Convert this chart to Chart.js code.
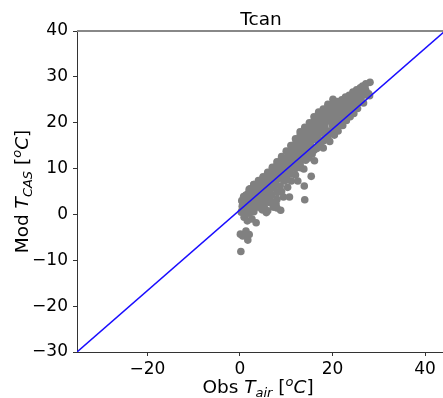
<!DOCTYPE html>
<html lang="en">
<head>
    <meta charset="UTF-8">
    <title>Tcan</title>
    <script src="https://cdn.jsdelivr.net/npm/chart.js"></script>
    <style>
        body { margin: 0; background: #fff; overflow: hidden; }
        canvas { display: block; }
    </style>
</head>
<body>
    <!-- figure is cropped on the right, like the original -->
    <canvas id="tcanChart" width="449" height="398"></canvas>

    <script>
        const obsTair = [
            0.2, 0.1, 0.6, 1.7, 2.0, 1.3, 1.6, 0.9, 3.5, 2.6,
            0.3, 0.5, 0.4, 0.8, 1.0, 1.2, 1.5, 1.8, 1.9, 2.3, 2.4, 2.1, 2.8, 2.9, 3.2, 3.3, 3.6, 3.8, 3.9, 4.2,
            4.4, 4.5, 4.7, 5.0, 5.2, 5.3, 5.6, 5.8, 6.0, 6.2, 6.3, 6.6, 6.9, 7.0, 7.2, 7.4, 7.6, 7.8, 7.9, 8.1,
            8.3, 8.5, 8.8, 8.7, 9.0, 9.2, 9.4, 9.5, 9.7, 9.9, 10.1, 10.3, 10.4, 10.6, 10.8, 11.0, 11.1, 11.3, 11.5, 11.7,
            11.9, 12.0, 12.2, 12.4, 12.5, 12.6, 12.8, 13.0, 13.1, 13.3, 13.5, 13.7, 13.8, 14.0, 14.0, 14.2, 14.3, 14.5, 14.7, 14.9,
            15.0, 15.2, 15.4, 15.5, 15.6, 15.8, 16.0, 16.1, 16.3, 16.5, 16.6, 16.8, 17.0, 17.1, 17.3, 17.5, 17.6, 17.8, 18.0, 18.1,
            18.3, 18.5, 18.7, 18.9, 19.0, 19.2, 19.4, 19.6, 19.8, 19.9, 20.1, 20.2, 20.4, 20.6, 20.8, 21.0, 21.2, 21.4, 21.6, 21.8,
            22.0, 22.2, 22.4, 22.6, 22.8, 23.0, 23.2, 23.4, 23.6, 23.8, 24.0, 24.2, 24.4, 24.6, 24.8, 25.0, 25.2, 25.4, 25.6, 25.8,
            26.0, 26.2, 26.5, 26.7, 26.9, 27.2, 27.5, 27.8, 28.1, 28.0,
            10.0, 10.5, 11.0, 11.5, 12.0, 12.5, 13.0, 13.5, 14.0, 14.5, 15.0, 15.5, 16.0, 16.5, 17.0, 17.5, 18.0, 18.5, 19.0, 19.5,
            20.0, 20.5, 21.0, 21.5, 22.0, 22.5, 23.0, 23.5, 24.0, 24.5, 25.0, 25.5, 26.0, 26.5, 27.0,
            5.0, 5.5, 6.0, 6.5, 7.0, 7.5, 8.0, 8.5, 9.0, 9.5, 3.0, 3.5, 4.0, 4.5, 1.2, 2.0, 0.5, 1.0,
            12.3, 13.6, 14.8, 16.2, 17.2, 18.2, 19.3, 20.3, 21.2, 15.7, 14.1, 11.8, 10.7,
            8.0, 5.7, 10.7, 13.9,
            10.0, 11.0, 12.0, 13.0, 14.0, 15.0, 16.0, 17.0, 18.0, 19.0, 20.0, 21.0, 22.0, 23.0, 24.0, 25.0, 26.0,
            2.0, 3.0, 4.0, 5.0, 6.0, 7.0, 8.0, 9.0, 10.0, 11.0, 12.0, 13.0, 14.0, 15.0, 16.0, 17.0, 18.0, 19.0,
            10.2, 11.2, 12.2, 13.2, 14.2, 15.2, 16.2, 17.2, 18.2, 19.2, 20.2, 21.2, 22.2, 23.2, 24.2, 25.2, 26.2, 27.2,
            1.5, 2.5, 3.0, 4.0, 4.8, 5.5, 6.5, 7.0, 8.0, 9.0, 6.0,
            0.6, 1.3, 2.2, 3.0, 4.0, 5.0, 6.0, 7.0, 8.0, 9.0
        ];
        const modTcas = [
            -8.1, -4.3, -4.7, -5.6, -4.4, -3.6, -1.4, -0.6, -1.8, -1.0,
            0.5, 1.8, 3.0, 3.9, 2.2, 0.8, 3.3, 4.6, 1.6, 2.7, 5.0, 0.3, 3.8, 1.2, 5.6, 2.4, 4.4, 6.1, 1.6, 3.3,
            5.4, 7.0, 2.2, 4.3, 6.3, 1.4, 7.3, 3.5, 5.6, 8.0, 2.6, 6.8, 4.3, 8.7, 1.6, 5.9, 9.4, 2.3, 7.5, 4.8,
            10.1, 8.6, 0.9, 6.2, 11.0, 9.1, 3.8, 7.3, 12.0, 10.0, 8.3, 5.9, 12.8, 11.2, 9.2, 14.0, 7.3, 12.4, 10.4, 15.2,
            13.3, 8.6, 11.5, 16.3, 7.3, 14.2, 12.2, 17.2, 10.2, 15.2, 13.0, 17.6, 9.9, 16.0, 3.2, 11.8, 18.4, 14.2, 17.0, 12.3,
            19.2, 15.3, 8.3, 17.6, 13.2, 20.1, 16.3, 11.7, 18.6, 21.0, 14.4, 17.3, 21.8, 19.6, 15.2, 22.2, 17.9, 20.7, 14.5, 22.5,
            19.0, 16.8, 21.7, 23.2, 18.2, 20.4, 15.9, 22.7, 24.0, 19.5, 25.1, 21.4, 17.3, 23.4, 20.0, 24.6, 18.2, 22.2, 24.3, 20.6,
            25.0, 19.4, 23.2, 21.5, 25.6, 20.5, 24.1, 22.4, 26.0, 21.3, 25.0, 23.2, 26.7, 22.0, 25.6, 24.0, 27.2, 23.1, 26.2, 24.8,
            27.6, 25.5, 28.0, 24.3, 27.1, 28.5, 26.0, 26.3, 28.8, 25.9,
            11.5, 13.5, 11.8, 13.9, 15.0, 12.8, 14.1, 16.4, 13.5, 16.0, 14.3, 18.8, 17.7, 19.5, 16.5, 20.3, 18.4, 21.0, 21.2, 18.0,
            22.6, 20.8, 21.5, 23.5, 22.6, 24.3, 23.2, 25.0, 24.0, 25.2, 25.8, 24.9, 26.5, 26.9, 27.6,
            5.5, 4.6, 6.9, 5.0, 7.2, 6.8, 8.6, 9.4, 7.9, 10.8, 3.3, 5.0, 4.3, 6.0, 1.9, 4.2, 1.0, 3.0,
            13.9, 15.0, 18.2, 20.0, 18.5, 20.0, 22.0, 22.0, 23.0, 16.5, 17.3, 11.9, 10.0,
            1.4, 0.4, 3.8, 6.2,
            7.5, 8.8, 10.0, 11.0, 12.2, 13.0, 14.0, 15.0, 16.0, 17.0, 18.0, 19.0, 20.0, 21.5, 22.5, 23.5, 24.5,
            5.5, 6.5, 7.4, 8.2, 9.2, 10.3, 11.5, 12.6, 13.8, 15.0, 16.5, 18.0, 19.0, 20.0, 21.3, 22.3, 23.0, 24.0,
            10.8, 12.5, 13.2, 14.6, 15.4, 16.8, 17.6, 19.0, 19.8, 21.0, 21.8, 22.4, 23.4, 24.0, 25.2, 25.5, 26.2, 27.0,
            0.2, 1.8, 0.6, 2.5, 1.0, 2.8, 3.6, 2.6, 3.3, 5.0, 0.8,
            2.6, 4.2, 5.6, 6.5, 7.0, 8.0, 8.8, 9.8, 10.8, 12.3
        ];

        const xTicks = [-20, 0, 20, 40];
        const yTicks = [-30, -20, -10, 0, 10, 20, 30, 40];
        const xLimits = [-35.2, 44.3];
        const yLimits = [-30, 40];

        const points = obsTair.map((x, i) => ({ x: x, y: modTcas[i] }));
        // diagonal of the axes box, as in the original figure
        const diagonal = [
            { x: xLimits[0], y: yLimits[0] },
            { x: xLimits[1], y: yLimits[1] }
        ];

        const FONT = "'DejaVu Sans', sans-serif";
        const minus = v => String(v).replace("-", "\u2212");

        function drawMixed(ctx, parts, cx, baseline, base) {
            let total = 0;
            parts.forEach(p => {
                ctx.font = (p.italic ? "italic " : "") + (p.size || base) + "px " + FONT;
                p.w = ctx.measureText(p.t).width;
                total += p.w;
            });
            let x = cx - total / 2;
            ctx.textAlign = "left";
            ctx.textBaseline = "alphabetic";
            ctx.fillStyle = "#000";
            parts.forEach(p => {
                ctx.font = (p.italic ? "italic " : "") + (p.size || base) + "px " + FONT;
                ctx.fillText(p.t, x, baseline + (p.dy || 0));
                x += p.w;
            });
        }

        function axisLabel(word, sub) {
            return [
                { t: word + " " },
                { t: "T", italic: true },
                { t: sub, italic: true, size: 13, dy: 4 },
                { t: " [" },
                { t: "o", italic: true, size: 13, dy: -7.5 },
                { t: "C", italic: true },
                { t: "]" }
            ];
        }

        const labelPlugin = {
            id: "labels",
            afterDatasetsDraw(chart) {
                const ctx = chart.ctx;
                const a = chart.chartArea;
                ctx.save();
                ctx.strokeStyle = "#888";
                ctx.lineWidth = 2;
                ctx.beginPath();
                ctx.moveTo(a.left, a.top);
                ctx.lineTo(a.right, a.top);
                ctx.stroke();
                ctx.restore();
            },
            afterDraw(chart) {
                const ctx = chart.ctx;
                const a = chart.chartArea;
                const mid = (a.left + a.right) / 2;
                ctx.save();
                drawMixed(ctx, [{ t: "Tcan" }], mid, a.top - 6, 18.5);
                drawMixed(ctx, axisLabel("Obs", "air"), mid - 3, 393, 18.5);
                ctx.translate(28, (a.top + a.bottom) / 2);
                ctx.rotate(-Math.PI / 2);
                drawMixed(ctx, axisLabel("Mod", "CAS"), 0, 0, 18.5);
                ctx.restore();
            }
        };

        const ctx = document.getElementById("tcanChart").getContext("2d");
        new Chart(ctx, {
            data: {
                datasets: [
                    {
                        type: "line",
                        data: diagonal,
                        borderColor: "#1a0dff",
                        borderWidth: 1.5,
                        pointRadius: 0,
                        fill: false,
                        order: 0
                    },
                    {
                        type: "scatter",
                        data: points,
                        backgroundColor: "#808080",
                        borderWidth: 0,
                        pointRadius: 3.8,
                        order: 1
                    }
                ]
            },
            options: {
                responsive: false,
                animation: false,
                layout: { padding: { top: 31, right: 0, left: 0, bottom: 0 } },
                plugins: {
                    legend: { display: false },
                    tooltip: { enabled: false },
                    title: { display: false }
                },
                scales: {
                    x: {
                        type: "linear",
                        min: xLimits[0],
                        max: xLimits[1],
                        afterBuildTicks: s => { s.ticks = xTicks.map(v => ({ value: v })); },
                        afterFit: s => {
                            s.height = 46;
                            s.paddingLeft = 0; s.paddingRight = 0;
                        },
                        grid: { drawOnChartArea: false, drawTicks: true, tickLength: 4, color: "#333" },
                        border: { display: true, color: "#333", width: 1 },
                        ticks: { font: { family: FONT, size: 17 }, color: "#000", padding: 3, maxRotation: 0, callback: minus }
                    },
                    y: {
                        type: "linear",
                        min: yLimits[0],
                        max: yLimits[1],
                        afterBuildTicks: s => { s.ticks = yTicks.map(v => ({ value: v })); },
                        afterFit: s => {
                            s.width = 77;
                            s.paddingTop = 0; s.paddingBottom = 0;
                        },
                        grid: { drawOnChartArea: false, drawTicks: true, tickLength: 4, color: "#333" },
                        border: { display: true, color: "#333", width: 1 },
                        ticks: { font: { family: FONT, size: 17 }, color: "#000", padding: 5, callback: minus }
                    }
                }
            },
            plugins: [labelPlugin]
        });
    </script>
</body>
</html>
